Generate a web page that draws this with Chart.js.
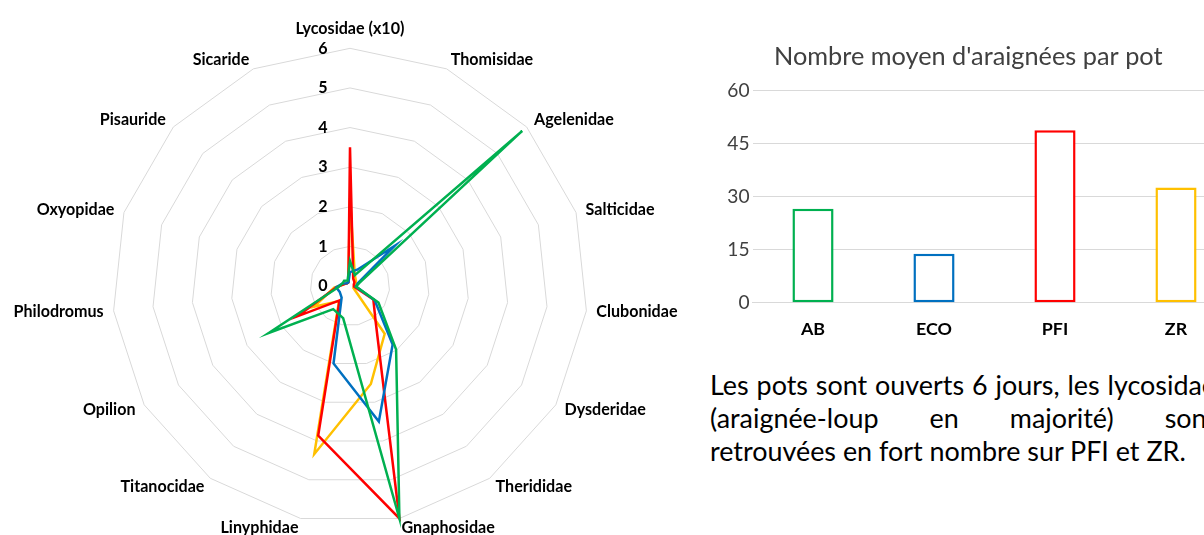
<!DOCTYPE html>
<html lang="fr">
<head>
<meta charset="utf-8">
<title>Araignées par pot</title>
<script src="https://cdn.jsdelivr.net/npm/chart.js@4.4.1/dist/chart.umd.min.js"></script>
<style>
  html, body { margin: 0; padding: 0; background: #fff; width: 1204px; height: 535px; overflow: hidden; }
  #radar-wrap { position: absolute; left: 0; top: 0; width: 700px; height: 551px; }
  #bar-wrap { position: absolute; left: 700px; top: 0; width: 560px; height: 366px; }
  #note { position: absolute; left: 710px; top: 368px; width: 506px; font-family: Lato, sans-serif; line-height: 33px; color: #000; }
  #note .just { text-align: justify; text-align-last: justify; }
</style>
</head>
<body>
<div id="radar-wrap"><canvas id="radar"></canvas></div>
<div id="bar-wrap"><canvas id="bars"></canvas></div>
<div id="note">
  <div class="just">Les pots sont ouverts 6 jours, les lycosidae</div>
  <div class="just">(araignée-loup en majorité) sont</div>
  <div>retrouvées en fort nombre sur PFI et ZR.</div>
</div>
<script>
// ─── Data ─────────────────────────────────────────────────────────────────────

const ZONES = ['AB', 'ECO', 'PFI', 'ZR'];
const ZONE_COLORS = ['#00B050', '#0070C0', '#FF0000', '#FFC000'];

const FAMILIES = [
  'Lycosidae (x10)', 'Thomisidae', 'Agelenidae', 'Salticidae', 'Clubonidae',
  'Dysderidae', 'Therididae', 'Gnaphosidae', 'Linyphidae', 'Titanocidae',
  'Opilion', 'Philodromus', 'Oxyopidae', 'Pisauride', 'Sicaride',
];

const AB_COUNTS  = [0.63, 0.3, 5.85, 0.25, 0.15, 0.83, 1.98, 6.0, 0.83, 0.72, 2.37, 0.3, 0.2, 0.2, 0.15];
const ECO_COUNTS = [0.35, 0.45, 1.52, 0.2, 0.15, 0.72, 1.83, 3.5, 2.0, 0.36, 0.3, 0.35, 0.2, 0.1, 0.1];
const PFI_COUNTS = [3.5, 0.2, 0.15, 0.1, 0.1, 0.68, 1.1, 6.0, 3.86, 0.45, 1.53, 0.35, 0.15, 0.1, 0.1];
const ZR_COUNTS  = [2.22, 0.3, 0.2, 0.15, 0.1, 0.1, 1.49, 2.53, 4.34, 0.47, 1.05, 0.4, 0.15, 0.1, 0.1];

const RADAR_TICKS = [0, 1, 2, 3, 4, 5, 6];

const MEAN_PER_POT = [26.6, 13.9, 48.8, 32.6];
const BAR_TICKS = [0, 15, 30, 45, 60];

const BAR_TITLE = "Nombre moyen d'araignées par pot";

// ─── Fonts ────────────────────────────────────────────────────────────────────

const FONT = 'Lato';
const GRID = '#d9d9d9';

// size at which `text` is `width` px wide
const fitSize = (text, width, weight) => {
  const ctx = document.createElement('canvas').getContext('2d');
  ctx.font = `${weight} 100px ${FONT}`;
  return +(100 * width / ctx.measureText(text).width).toFixed(1);
};

const labelSize = fitSize('Lycosidae (x10)', 109, 'bold');
const titleSize = fitSize(BAR_TITLE, 389, 'normal');
const noteSize = fitSize('retrouvées en fort nombre sur PFI et ZR.', 477, 'normal');
const scaleRatio = titleSize / 26.9;

document.getElementById('note').style.fontSize = `${noteSize}px`;

// ─── Radar ────────────────────────────────────────────────────────────────────

// value labels sit left of the vertical axis, like the spreadsheet does it
const radarTickLabels = {
  id: 'radarTickLabels',
  afterDraw(chart) {
    const r = chart.scales.r;
    const ctx = chart.ctx;
    ctx.save();
    ctx.font = `bold ${labelSize}px ${FONT}`;
    ctx.fillStyle = '#000';
    ctx.textAlign = 'center';
    ctx.textBaseline = 'middle';
    RADAR_TICKS.forEach((v) => {
      ctx.fillText(String(v), r.xCenter - 27, r.yCenter - r.getDistanceFromCenterForValue(v));
    });
    ctx.restore();
  },
};

// center the side labels vertically on their anchor point (only the top one stays above)
const centerPointLabels = {
  id: 'centerPointLabels',
  afterLayout(chart) {
    const r = chart.scales.r;
    (r._pointLabelItems || []).forEach((item, i) => {
      const deg = Math.round((r.getIndexAngle(i) * 180) / Math.PI) % 360;
      if (deg === 0 || deg === 180) return;
      const half = (item.bottom - item.top) / 2;
      const shift = deg > 90 && deg < 270 ? -half : half;
      item.y += shift;
      item.top += shift;
      item.bottom += shift;
    });
  },
};

const radarSeries = [AB_COUNTS, ECO_COUNTS, PFI_COUNTS, ZR_COUNTS];

new Chart(document.getElementById('radar'), {
  type: 'radar',
  data: {
    labels: FAMILIES,
    datasets: radarSeries.map((data, i) => ({
      label: ZONES[i],
      data,
      borderColor: ZONE_COLORS[i],
      borderWidth: 2.5,
      pointRadius: 0,
      fill: false,
      tension: 0,
    })),
  },
  options: {
    responsive: true,
    maintainAspectRatio: false,
    animation: false,
    layout: { padding: { top: 17, bottom: 0, right: 8 } },
    plugins: { legend: { display: false }, tooltip: { enabled: false } },
    scales: {
      r: {
        min: RADAR_TICKS[0],
        max: RADAR_TICKS.at(-1),
        ticks: { stepSize: 1, display: false },
        grid: { color: GRID, lineWidth: 1 },
        angleLines: { display: false },
        pointLabels: {
          color: '#000',
          padding: 10,
          font: { family: FONT, weight: 'bold', size: labelSize },
        },
      },
    },
  },
  plugins: [centerPointLabels, radarTickLabels],
});

// ─── Bars ─────────────────────────────────────────────────────────────────────

new Chart(document.getElementById('bars'), {
  type: 'bar',
  data: {
    labels: ZONES,
    datasets: [
      {
        data: MEAN_PER_POT,
        backgroundColor: '#ffffff',
        borderColor: ZONE_COLORS,
        borderWidth: 2.5,
        borderSkipped: false,
        barPercentage: 0.34,
        categoryPercentage: 1,
      },
    ],
  },
  options: {
    responsive: true,
    maintainAspectRatio: false,
    animation: false,
    layout: { padding: { top: 0, right: 23.5, bottom: 9.7, left: 0 } },
    plugins: {
      legend: { display: false },
      tooltip: { enabled: false },
      title: {
        display: true,
        text: BAR_TITLE,
        color: '#404040',
        font: { family: FONT, weight: 'normal', size: titleSize },
        padding: { top: 41.4, bottom: 19 },
      },
    },
    scales: {
      x: {
        grid: { display: false, drawTicks: false },
        border: { display: true, color: GRID },
        ticks: {
          color: '#000',
          padding: 16,
          font: { family: FONT, weight: 'bold', size: 19 * scaleRatio },
        },
      },
      y: {
        min: BAR_TICKS[0],
        max: BAR_TICKS.at(-1),
        ticks: {
          stepSize: BAR_TICKS[1] - BAR_TICKS[0],
          color: '#404040',
          padding: 3,
          font: { family: FONT, size: 20.4 * scaleRatio },
        },
        grid: { color: GRID, drawTicks: false },
        border: { display: false },
        afterFit: (scale) => { scale.width = 52.5; },
      },
    },
  },
});
</script>
</body>
</html>
